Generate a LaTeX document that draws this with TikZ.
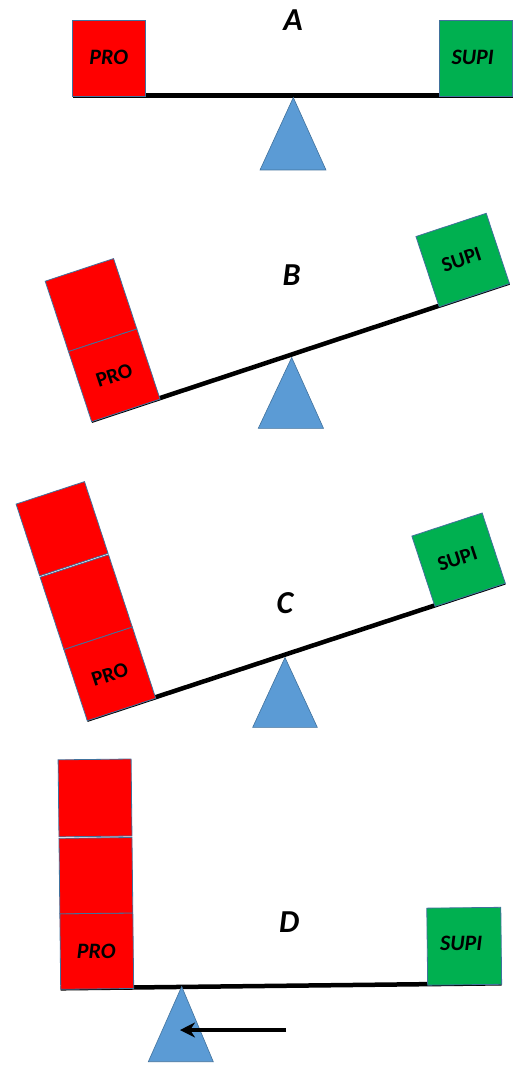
\documentclass[tikz,border=0pt]{standalone}
\usepackage{fontspec}
\setmainfont{Carlito}
\usetikzlibrary{arrows.meta}
\definecolor{boxred}{HTML}{FF0000}
\definecolor{boxgreen}{HTML}{00B050}
\definecolor{pivotblue}{HTML}{5B9BD5}
\definecolor{edgeblue}{HTML}{41719C}
\tikzset{
 redbox/.style={fill=boxred,draw=edgeblue,line width=0.8pt},
 greenbox/.style={fill=boxgreen,draw=edgeblue,line width=0.8pt},
 beam/.style={line width=4.5pt,black},
 pivot/.style={fill=pivotblue,draw=edgeblue,line width=0.6pt},
 panellabel/.style={font=\fontsize{32}{36}\selectfont\bfseries\itshape},
 boxlabelit/.style={font=\fontsize{22}{26}\selectfont\bfseries\itshape},
 boxlabel/.style={font=\fontsize{21}{25}\selectfont\bfseries},
}
\begin{document}
\begin{tikzpicture}[x=1pt,y=-1pt]
\useasboundingbox (0,0) rectangle (525,1067);

% ---------- A ----------
\begin{scope}[shift={(72.7,96.7)}]
\draw[beam] (0,-1) -- (440,-1);
\draw[redbox] (0,0) rectangle (73,-76.7);
\draw[greenbox] (366.5,0) rectangle (440,-76.7);
\node[boxlabelit] (proA) at (36,-39) {PRO};
\node[boxlabelit] (supiA) at (400,-39) {SUPI};
\end{scope}
\draw[pivot] (293.3,97.5) -- (326,170) -- (260,170) -- cycle;
\node[panellabel] (labA) at (293,20) {A};

% ---------- B ----------
\begin{scope}[shift={(91.7,421.7)},rotate=18.3]
\draw[beam] (0,-1) -- (440,-1);
\draw[redbox] (0,0) rectangle (72,-74);
\draw[redbox] (0,-74) rectangle (72,-148);
\draw[greenbox] (366,0) rectangle (440,-74);
\node[boxlabel,rotate=18.3] (proB) at (36,-37) {PRO};
\node[boxlabel,rotate=18.3] (supiB) at (402,-38) {SUPI};
\end{scope}
\draw[pivot] (291.7,357.5) -- (323.5,428.3) -- (258.3,428.3) -- cycle;
\node[panellabel] (labB) at (291.7,275) {B};

% ---------- C ----------
\begin{scope}[shift={(87.3,720.7)},rotate=18.2]
\draw[beam] (0,-1) -- (440,-1);
\draw[redbox] (0,0) rectangle (72,-75);
\draw[redbox] (0,-75) rectangle (72,-151);
\draw[redbox] (0,-152.5) rectangle (72,-228);
\draw[greenbox] (366,0) rectangle (440,-74);
\node[boxlabel,rotate=18.2] (proC) at (36,-37) {PRO};
\node[boxlabel,rotate=18.2] (supiC) at (402,-38) {SUPI};
\end{scope}
\draw[pivot] (285,657.5) -- (317.3,727.3) -- (252.7,727.3) -- cycle;
\node[panellabel] (labC) at (285,603.3) {C};

% ---------- D ----------
\begin{scope}[shift={(60.7,989.3)},rotate=0.65]
\draw[beam] (0,-1) -- (441,-1);
\draw[redbox] (0,0) rectangle (73,-75.5);
\draw[redbox] (0,-75.5) rectangle (73,-151);
\draw[redbox] (0,-152.5) rectangle (73,-229.5);
\draw[greenbox] (367,0) rectangle (441,-77);
\node[boxlabelit] (proD) at (36,-38) {PRO};
\node[boxlabelit] (supiD) at (401,-41) {SUPI};
\end{scope}
\draw[pivot] (181.7,986.5) -- (213.3,1061.7) -- (148.3,1061.7) -- cycle;
\node[panellabel] (labD) at (289.3,921.7) {D};
\coordinate (arrS) at (286,1030);
\coordinate (arrE) at (180,1030);
\draw[line width=4pt,-{Stealth[length=15pt,width=15pt]}] (arrS) -- (arrE);
\end{tikzpicture}
\end{document}
